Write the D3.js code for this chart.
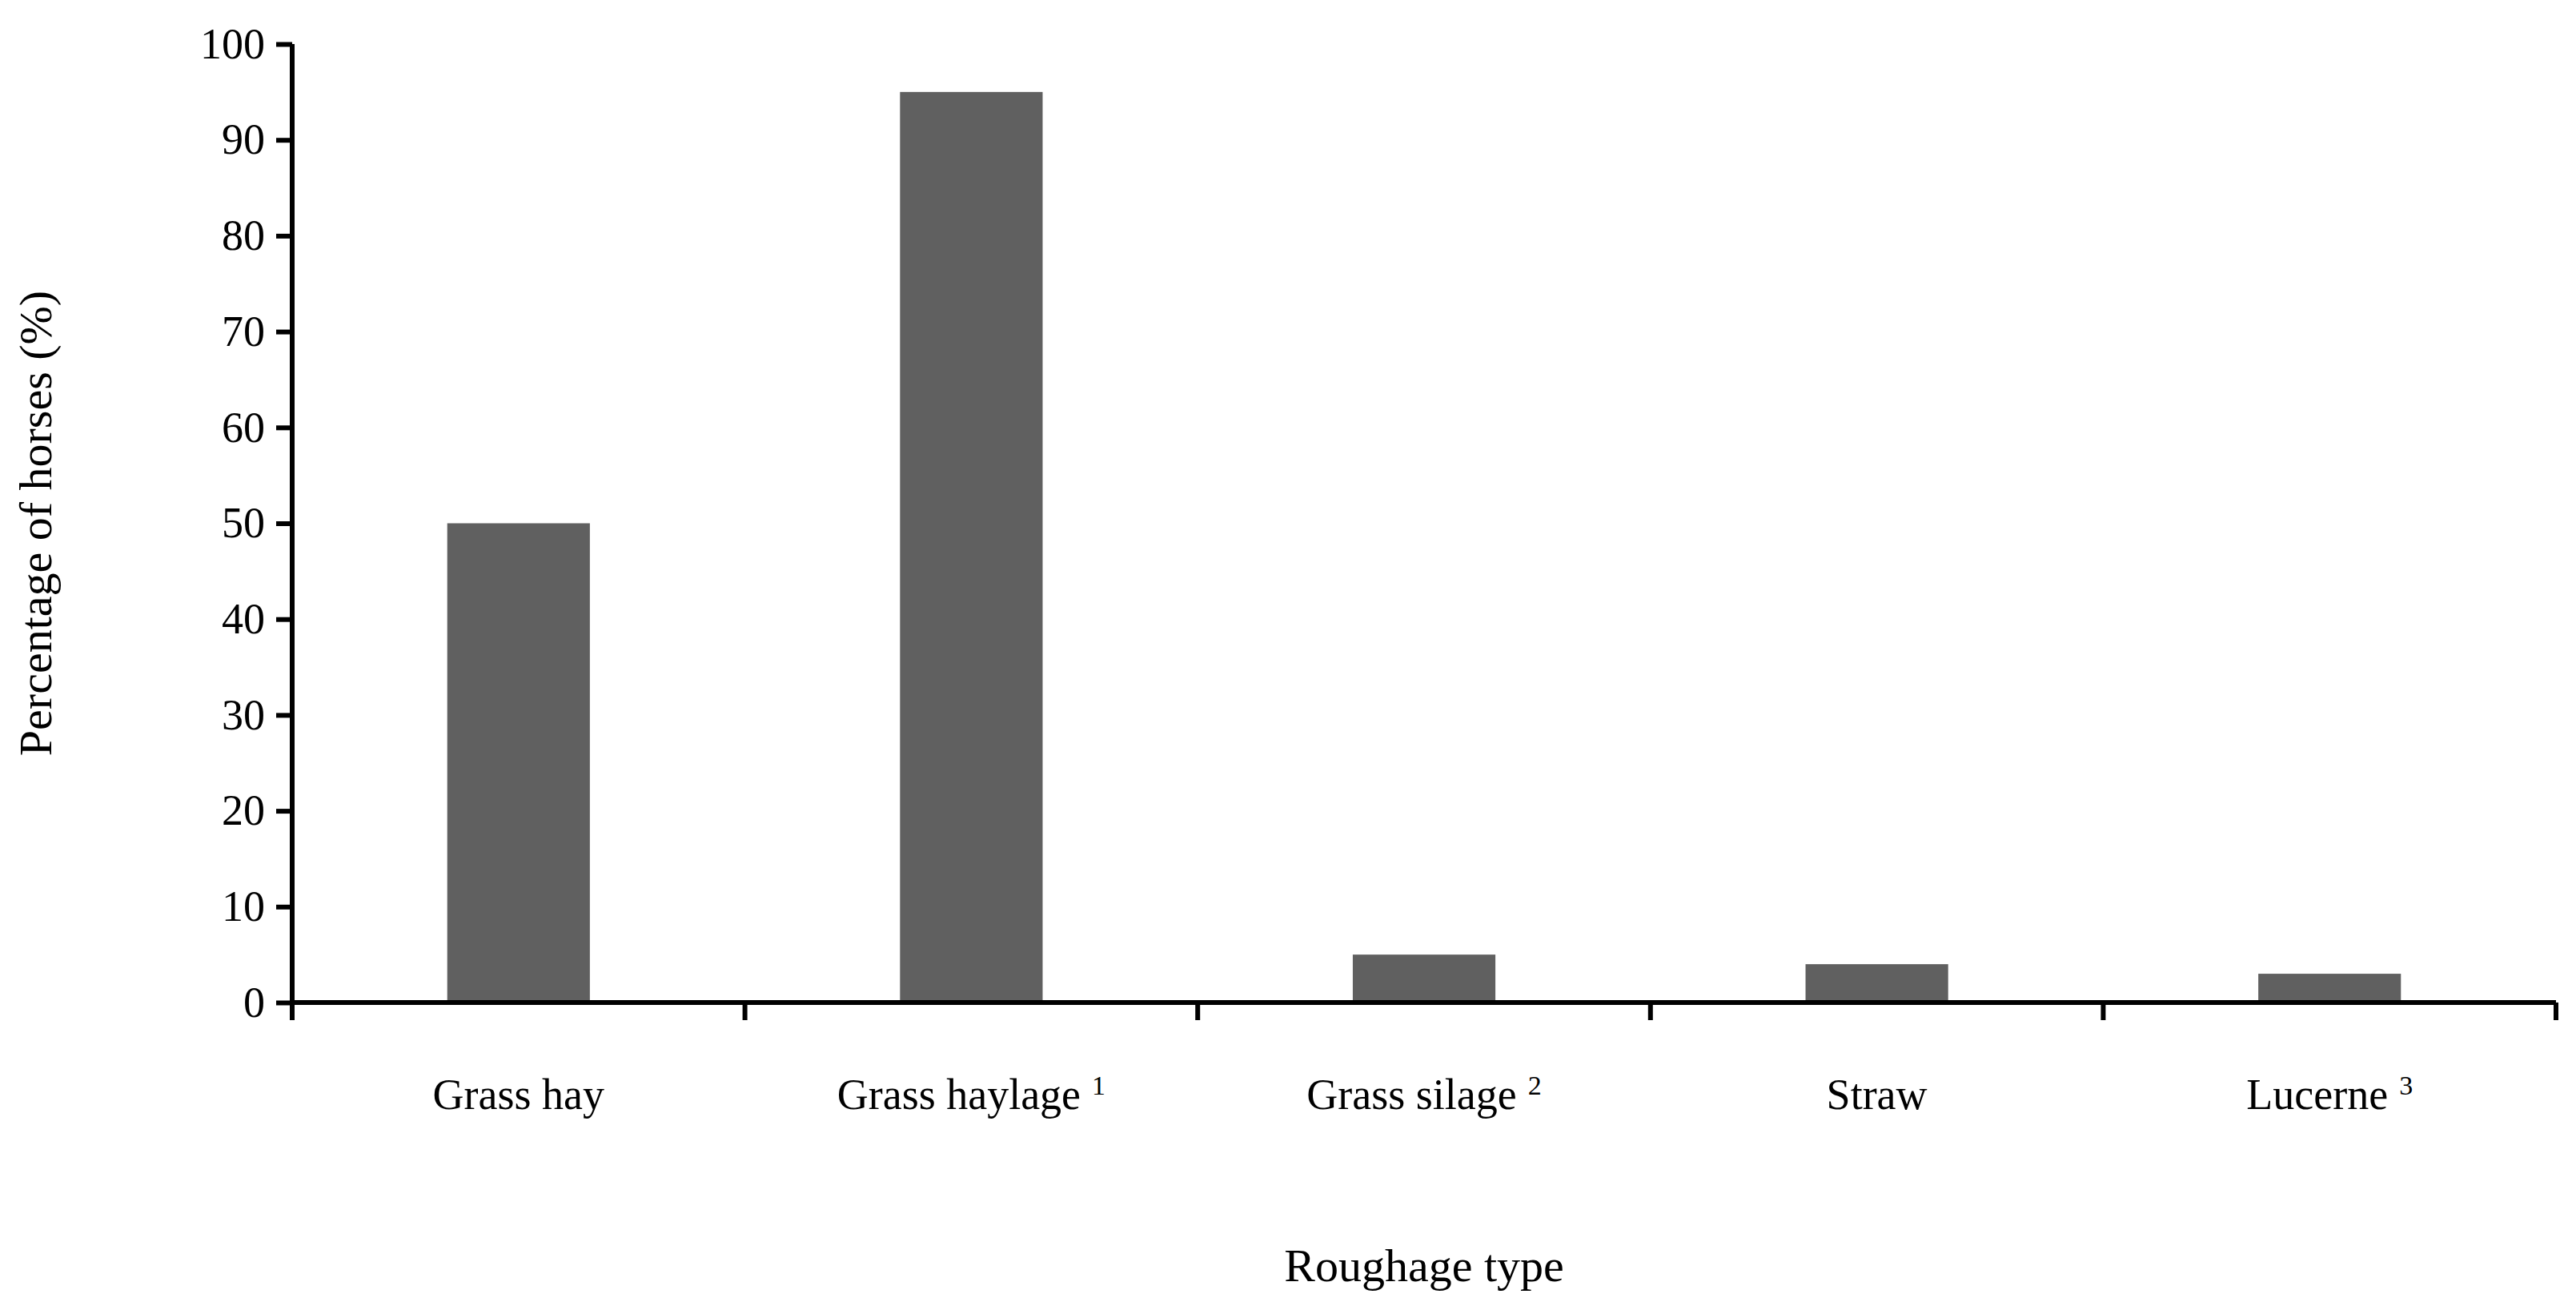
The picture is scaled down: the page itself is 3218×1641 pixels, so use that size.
<!DOCTYPE html>
<html>
<head>
<meta charset="utf-8">
<script src="https://cdn.jsdelivr.net/npm/d3@7"></script>
<style>
  body { margin: 0; background: #fff; }
  text { font-family: "Liberation Serif", "DejaVu Serif", serif; fill: #000; }
</style>
</head>
<body>
<svg id="chart" width="3218" height="1641"></svg>
<script>
var categories = ["Grass hay", "Grass haylage", "Grass silage", "Straw", "Lucerne"];
var notes = ["", "1", "2", "", "3"];
var values = [50, 95, 5, 4, 3];
var yTicks = [0, 10, 20, 30, 40, 50, 60, 70, 80, 90, 100];

var margin = { left: 365, right: 25, top: 55, bottom: 389 };
var width = 3218, height = 1641;
var svg = d3.select("#chart");

var x = d3.scaleBand()
  .domain(categories)
  .range([margin.left, width - margin.right])
  .paddingInner(0.685)
  .paddingOuter(0.3425);

var y = d3.scaleLinear()
  .domain([0, 100])
  .range([height - margin.bottom, margin.top]);

// bars
svg.selectAll("rect.bar")
  .data(values)
  .enter()
  .append("rect")
  .attr("class", "bar")
  .attr("x", function(d, i) { return x(categories[i]); })
  .attr("width", x.bandwidth())
  .attr("y", function(d) { return y(d); })
  .attr("height", function(d) { return y(0) - y(d); })
  .style("fill", "#606060");

// y axis
var yAxis = svg.append("g")
  .attr("transform", "translate(" + margin.left + ",0)")
  .call(d3.axisLeft(y).tickValues(yTicks).tickSize(20).tickPadding(14));
yAxis.selectAll("text").style("font-size", "54px");

// x axis: ticks at band boundaries
var xAxis = svg.append("g")
  .attr("transform", "translate(0," + y(0) + ")");
xAxis.append("line")
  .attr("x1", margin.left).attr("x2", width - margin.right)
  .attr("stroke", "#000").attr("stroke-width", 6);
var step = x.step();
var bounds = d3.range(categories.length + 1).map(function(i) {
  return margin.left + i * (width - margin.left - margin.right) / categories.length;
});
xAxis.selectAll("line.tick")
  .data(bounds)
  .enter()
  .append("line")
  .attr("class", "tick")
  .attr("x1", function(d) { return d; })
  .attr("x2", function(d) { return d; })
  .attr("y1", 0).attr("y2", 22)
  .attr("stroke", "#000").attr("stroke-width", 6);

var labels = svg.selectAll("text.cat")
  .data(categories)
  .enter()
  .append("text")
  .attr("class", "cat")
  .attr("x", function(d) { return x(d) + x.bandwidth() / 2; })
  .attr("y", 1385)
  .attr("text-anchor", "middle")
  .style("font-size", "54px")
  .text(function(d) { return d; });
labels.filter(function(d, i) { return notes[i]; })
  .append("tspan")
  .attr("dx", 14)
  .attr("dy", -18)
  .style("font-size", "34px")
  .text(function(d, i) { return notes[categories.indexOf(d)]; });

yAxis.select(".domain").attr("stroke-width", 6);
yAxis.selectAll(".tick line").attr("stroke-width", 6);
yAxis.select(".domain").attr("d", "M0," + y(100) + "V" + y(0));

// axis titles
svg.append("text")
  .attr("x", (margin.left + width - margin.right) / 2)
  .attr("y", 1600)
  .attr("text-anchor", "middle")
  .style("font-size", "58px")
  .text("Roughage type");

svg.append("text")
  .attr("transform", "translate(64," + ((y(0) + y(100)) / 2) + ") rotate(-90)")
  .attr("text-anchor", "middle")
  .style("font-size", "58px")
  .text("Percentage of horses (%)");
</script>
</body>
</html>
